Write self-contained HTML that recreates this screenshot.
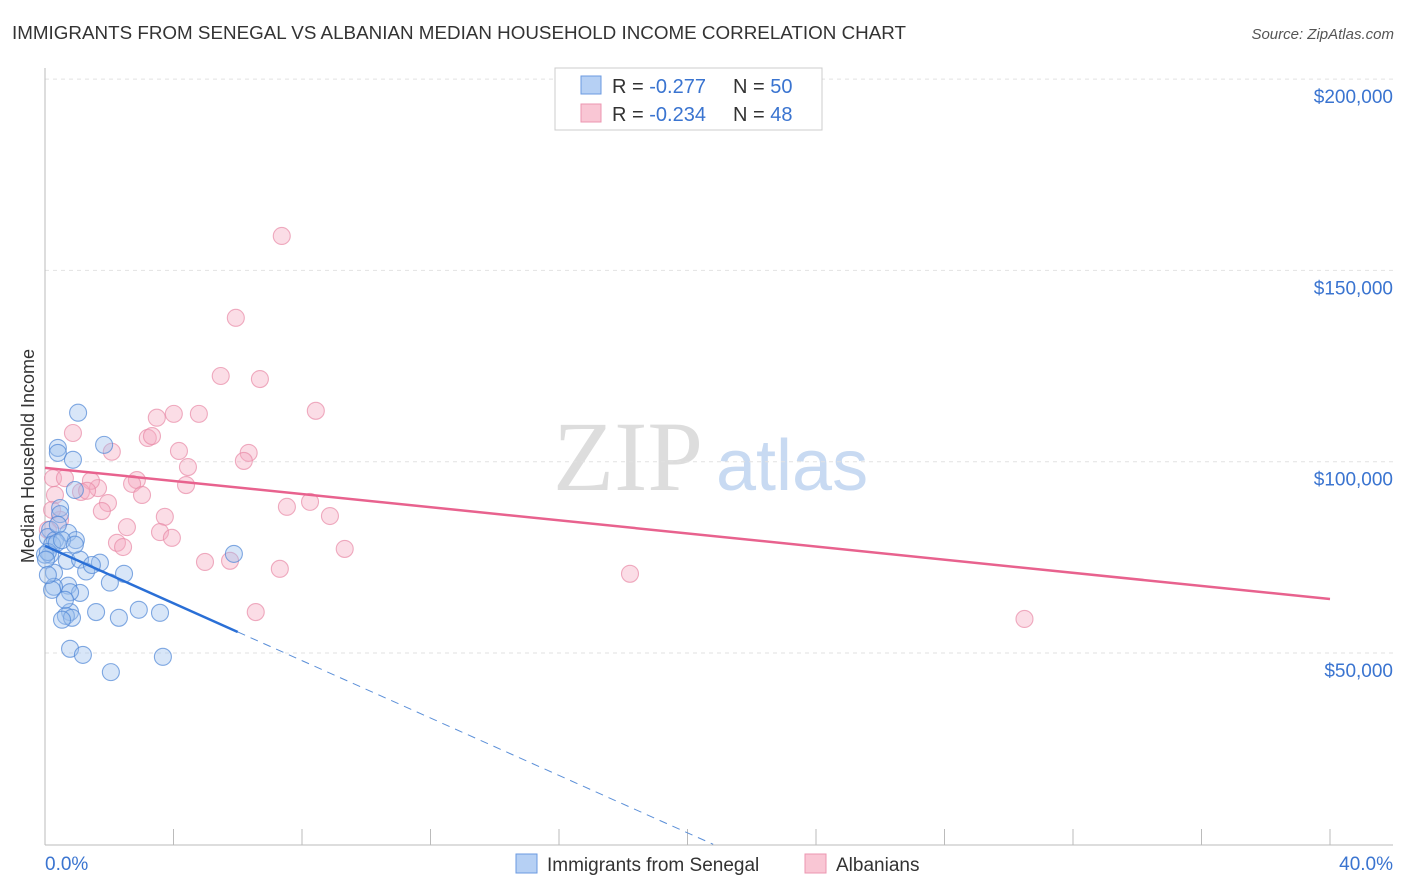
<!DOCTYPE html>
<html><head><meta charset="utf-8"><style>
body{margin:0;background:#fff;font-family:"Liberation Sans",sans-serif;}
svg{display:block}
</style></head><body>
<svg id="chart" width="1406" height="892">
<text x="12" y="39" font-size="18" fill="#333" textLength="894" lengthAdjust="spacingAndGlyphs">IMMIGRANTS FROM SENEGAL VS ALBANIAN MEDIAN HOUSEHOLD INCOME CORRELATION CHART</text>
<text x="1394" y="39" font-size="15" fill="#555" font-style="italic" text-anchor="end">Source: ZipAtlas.com</text>
<g>
<text x="553" y="490" font-size="100" fill="#ddd" font-family="Liberation Serif,serif">ZIP</text>
<text x="716" y="490" font-size="72" fill="#c8daf2">atlas</text>
</g>
<g id="grid"></g><g id="axes"></g><g id="marks"></g>
<text transform="translate(34,456) rotate(-90)" font-size="18" fill="#333" text-anchor="middle">Median Household Income</text>
<g>
<rect x="555" y="68" width="267" height="62" fill="#fff" stroke="#ccc"/>
<rect x="581" y="76" width="20" height="18" fill="#b6d0f4" stroke="#6b9ae0"/>
<rect x="581" y="104" width="20" height="18" fill="#f9c6d4" stroke="#ec96b0"/>
<text x="612" y="93" font-size="20" fill="#333">R = <tspan fill="#3a74d0">-0.277</tspan></text>
<text x="733" y="93" font-size="20" fill="#333">N = <tspan fill="#3a74d0">50</tspan></text>
<text x="612" y="121" font-size="20" fill="#333">R = <tspan fill="#3a74d0">-0.234</tspan></text>
<text x="733" y="121" font-size="20" fill="#333">N = <tspan fill="#3a74d0">48</tspan></text>
</g>
<g>
<rect x="516" y="854" width="21" height="19" fill="#b6d0f4" stroke="#6b9ae0"/>
<text x="547" y="871" font-size="19" fill="#333">Immigrants from Senegal</text>
<rect x="805" y="854" width="21" height="19" fill="#f9c6d4" stroke="#ec96b0"/>
<text x="836" y="871" font-size="19" fill="#333">Albanians</text>
</g>
</svg>
<script>
const yTicks=[50000,100000,150000,200000];
const yTickLabels=["$50,000","$100,000","$150,000","$200,000"];
const xTickLabels=["0.0%","40.0%"];
const blueX=[1.03,0.40,0.40,1.84,0.87,0.93,0.47,0.47,0.16,0.72,0.96,0.09,0.31,0.22,0.16,0.68,1.09,1.71,1.28,0.28,2.46,2.02,0.72,0.28,0.22,1.09,0.78,5.88,1.59,0.78,0.65,0.84,0.53,2.92,3.58,2.30,0.78,1.18,3.67,2.05,0,0.09,0.37,0.03,0.62,0.09,1.46,0.40,0.53,0.93];
const blueY=[112.8,103.6,102.3,104.4,100.5,92.6,87.9,86.3,82.2,81.4,79.5,80.3,79.5,78.3,75.7,74.1,74.4,73.6,71.3,71.0,70.7,68.4,67.6,67.3,66.5,65.7,65.9,75.9,60.7,60.7,59.7,59.2,58.7,61.3,60.5,59.2,51.1,49.5,49.0,45.0,75.7,76.4,78.8,74.4,63.9,70.4,73.0,83.5,79.5,78.3];
const pinkX=[7.37,5.94,5.47,6.69,8.43,3.48,4.01,4.79,3.20,3.33,0.87,2.08,4.17,6.34,6.19,4.45,0.25,0.62,1.65,1.43,1.12,1.31,2.86,2.71,4.39,3.02,1.96,1.77,8.25,7.53,8.87,3.73,0.47,2.55,3.58,3.95,2.24,2.43,9.33,4.98,5.76,7.31,6.56,18.21,30.49,0.09,0.31,0.22];
const pinkY=[159.0,137.6,122.4,121.6,113.3,111.5,112.5,112.5,106.2,106.7,107.5,102.6,102.8,102.3,100.2,98.6,95.7,95.7,93.1,95.0,92.1,92.4,95.2,94.2,93.9,91.3,89.2,87.1,89.5,88.2,85.8,85.6,84.8,82.9,81.6,80.1,78.8,77.7,77.2,73.8,74.1,72.0,60.7,70.7,58.9,82.2,91.3,87.4];
const blueTrend=[78.0,-3.75];   // intercept (k$), slope per %
const pinkTrend=[98.4,-0.8575];
const X=v=>45+v/40*1285;
const Y=v=>844.3-v/50000*191.3;
const YK=v=>Y(v*1000);
const NS="http://www.w3.org/2000/svg";
function mk(tag,attrs,parent){const e=document.createElementNS(NS,tag);for(const k in attrs)e.setAttribute(k,attrs[k]);parent.appendChild(e);return e;}
const grid=document.getElementById('grid'),axes=document.getElementById('axes'),marks=document.getElementById('marks');
yTicks.forEach((t,i)=>{
 const l=mk('line',{x1:45,x2:1393,y1:Y(t),y2:Y(t),stroke:'#e2e2e2','stroke-dasharray':'4,4'},grid);
 
 
 const tx=mk('text',{x:1393,y:Y(t)+24,'font-size':19,fill:'#3a74d0','text-anchor':'end'},axes);
 tx.textContent=yTickLabels[i];
 
 
});
const ax=mk('line',{x1:45,x2:45,y1:68,y2:845,stroke:'#bbb'},axes);


const bx=mk('line',{x1:45,x2:1393,y1:845,y2:845,stroke:'#bbb'},axes);


for(let i=0;i<=10;i++){
 const t=mk('line',{x1:X(i*4),x2:X(i*4),y1:829,y2:845,stroke:'#bbb'},axes);
 
 
}
const xl0=mk('text',{x:45,y:870,'font-size':19,fill:'#3a74d0'},axes);xl0.textContent=xTickLabels[0];


const xl1=mk('text',{x:1393,y:870,'font-size':19,fill:'#3a74d0','text-anchor':'end'},axes);xl1.textContent=xTickLabels[1];


function pts(xs,ys,fill,stroke,name){xs.forEach((x,i)=>{
 const c=mk('circle',{cx:X(x),cy:YK(ys[i]),r:8.5,fill:fill,'fill-opacity':0.4,stroke:stroke,'stroke-opacity':0.7,'stroke-width':1.1},marks);
 
 
});}
pts(pinkX,pinkY,'#f5aac0','#e88aa6','albanian-point');
pts(blueX,blueY,'#9dc0ee','#4f86d6','senegal-point');
const pl=mk('line',{x1:X(0),y1:YK(pinkTrend[0]),x2:X(40),y2:YK(pinkTrend[0]+pinkTrend[1]*40),stroke:'#e8628e','stroke-width':2.5},marks);


const bl=mk('line',{x1:X(0),y1:YK(blueTrend[0]),x2:X(6),y2:YK(blueTrend[0]+blueTrend[1]*6),stroke:'#2a6fd6','stroke-width':2.5},marks);


const x0=-blueTrend[0]/blueTrend[1];
const bd=mk('line',{x1:X(6),y1:YK(blueTrend[0]+blueTrend[1]*6),x2:X(x0),y2:YK(0),stroke:'#5b8fd8','stroke-width':1,'stroke-dasharray':'8,6'},marks);


</script>
</body></html>
